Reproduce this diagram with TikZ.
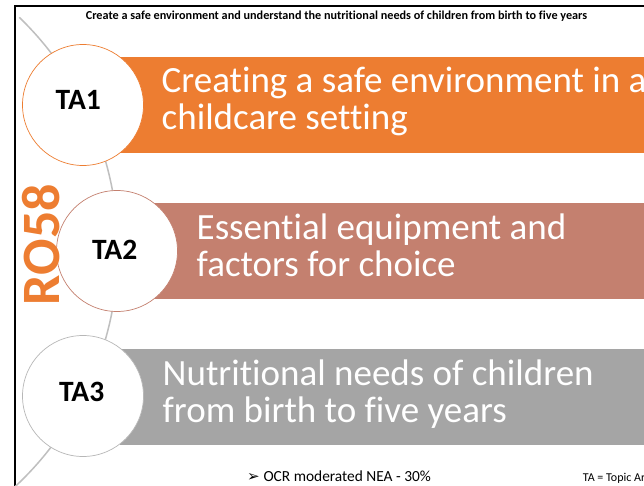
\documentclass[tikz,border=0pt]{standalone}
\usepackage{fontspec}
\setmainfont[Ligatures=NoCommon]{Carlito}
\newfontfamily\dejavu{DejaVu Sans}
\definecolor{taorange}{HTML}{ED7D31}
\definecolor{tarose}{HTML}{C4806F}
\definecolor{tagray}{HTML}{A5A5A5}
\definecolor{arcgray}{HTML}{BFBFBF}
\tikzset{
  barbox/.style={draw=none, anchor=north west, minimum width=540pt, minimum height=96pt, inner sep=0pt},
  bartext/.style={text=white, anchor=base west, inner sep=0pt, font=\fontsize{37}{37}\selectfont},
  tacircle/.style={circle, fill=white, line width=0.7pt, minimum size=121pt, inner sep=0pt},
  talabel/.style={inner sep=0pt, font=\bfseries\fontsize{29.5}{30}\selectfont},
}
\begin{document}
\begin{tikzpicture}[x=1pt,y=-1pt]
\useasboundingbox (0,0) rectangle (644,486);
\begin{scope}
\clip (0,0) rectangle (644,486);
\fill[white] (0,0) rectangle (644,486);
% frame
\draw[black,line width=1.3pt] (15,495) -- (15,6) -- (655,6);
% title
\node[inner sep=0pt, anchor=base, font=\bfseries\fontsize{12.2}{13}\selectfont] (title) at (336.5,20)
  {Create a safe environment and understand the nutritional needs of children from birth to five years};
% arc
\coordinate (arcC) at (-205.5,250);
\draw[arcgray,line width=1.5pt] (arcC) ++(46:323.5pt) arc[start angle=46,end angle=-53,radius=323.5pt];
% bars
\node[barbox, fill=taorange] (bar1) at (120,57) {};
\node[barbox, fill=tarose] (bar2) at (155,203) {};
\node[barbox, fill=tagray] (bar3) at (120,349) {};
% bar texts
\node[bartext] (t1a) at (161.5,93) {Creating a safe environment in a};
\node[bartext] (t1b) at (161.5,130) {childcare setting};
\node[bartext] (t2a) at (196.5,239.3) {Essential equipment and};
\node[bartext] (t2b) at (196.5,276.7) {factors for choice};
\node[bartext] (t3a) at (162.5,385) {Nutritional needs of children};
\node[bartext] (t3b) at (162.5,422.7) {from birth to five years};
% circles
\node[tacircle, draw=taorange] (c1) at (83,105) {};
\node[tacircle, draw=tarose] (c2) at (117,251) {};
\node[tacircle, draw=tagray!80] (c3) at (83,396) {};
\node[talabel] (l1) at (78.3,99.7) {TA1};
\node[talabel] (l2) at (114.7,250.3) {TA2};
\node[talabel] (l3) at (81.7,392) {TA3};
% RO58
\node[inner sep=0pt, rotate=90, text=taorange, font=\bfseries\fontsize{54}{54}\selectfont] (ro) at (41.5,244.5) {RO58};
% bottom notes
\node[inner sep=0pt, anchor=base east, font=\dejavu\fontsize{15}{16}\selectfont] (bul) at (260,481.7) {➢};
\node[inner sep=0pt, anchor=base west, font=\fontsize{15.4}{16}\selectfont] (nea) at (263.3,481.7) {OCR moderated NEA - 30\%};
\node[inner sep=0pt, anchor=base west, font=\fontsize{12}{13}\selectfont] (key) at (582.7,481.3) {TA = Topic Area};
\end{scope}
\end{tikzpicture}
\end{document}
